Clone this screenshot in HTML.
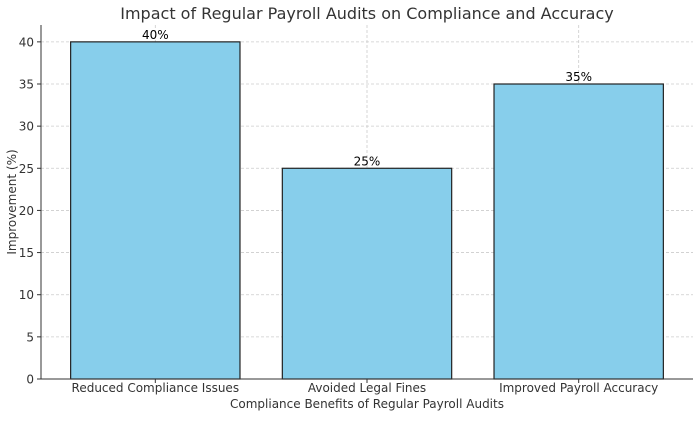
<!DOCTYPE html>
<html><head><meta charset="utf-8"><style>
body{margin:0;background:#fff;}
svg text{font-family:"DejaVu Sans","Liberation Sans",sans-serif;fill:#333;}
</style></head><body>
<svg id="chart" width="700" height="417" xmlns="http://www.w3.org/2000/svg">
<text x="367" y="19" text-anchor="middle" font-size="16">Impact of Regular Payroll Audits on Compliance and Accuracy</text>
<g id="grid"></g><g id="bars"></g><g id="axes"></g>
<text x="367" y="408" text-anchor="middle" font-size="12">Compliance Benefits of Regular Payroll Audits</text>
<text transform="translate(16,202) rotate(-90)" text-anchor="middle" font-size="12">Improvement (%)</text>
</svg>
<script>
const categories=["Reduced Compliance Issues","Avoided Legal Fines","Improved Payroll Accuracy"];
const values=[40,25,35];
const valueLabels=["40%","25%","35%"];
const yTicks=[0,5,10,15,20,25,30,35,40];
const L=41,R=693,T=25,B=379,yMax=42,xMin=-0.54,xMax=2.54;
const sx=v=>L+(v-xMin)/(xMax-xMin)*(R-L);
const sy=v=>B-v/yMax*(B-T);
const NS="http://www.w3.org/2000/svg";
function mk(t,a,p){const e=document.createElementNS(NS,t);for(const k in a)e.setAttribute(k,a[k]);p.appendChild(e);return e;}
const grid=document.getElementById('grid'),bars=document.getElementById('bars'),axes=document.getElementById('axes');
yTicks.forEach(v=>{
 const g=mk('line',{x1:L,x2:R,y1:sy(v),y2:sy(v),stroke:'#ccc','stroke-width':0.8,'stroke-dasharray':'3,2'},grid);
 
 
 const tk=mk('line',{x1:L-4,x2:L,y1:sy(v),y2:sy(v),stroke:'#333'},axes);
 
 
 const t=mk('text',{x:L-7,y:sy(v)+4.5,'text-anchor':'end','font-size':12},axes);t.textContent=v;
 
 
});
categories.forEach((c,i)=>{
 const g=mk('line',{x1:sx(i),x2:sx(i),y1:T,y2:B,stroke:'#ccc','stroke-width':0.8,'stroke-dasharray':'3,2'},grid);
 
 
 const x0=sx(i-0.4),x1=sx(i+0.4);
 const r=mk('rect',{x:x0,y:sy(values[i]),width:x1-x0,height:B-sy(values[i]),fill:'#87ceeb',stroke:'#222','stroke-width':1.2},bars);
 
 
 const vl=mk('text',{x:sx(i),y:sy(values[i])-3,'text-anchor':'middle','font-size':12},bars);vl.textContent=valueLabels[i];
 vl.style.fill='#000';
 
 
 const tk=mk('line',{x1:sx(i),x2:sx(i),y1:B,y2:B+4,stroke:'#333'},axes);
 
 
 const t=mk('text',{x:sx(i),y:B+13,'text-anchor':'middle','font-size':12},axes);t.textContent=c;
 
 
});
const ax=mk('path',{d:`M${L} ${T}V${B}H${R}`,fill:'none',stroke:'#333','stroke-width':1},axes);


</script>
</body></html>
